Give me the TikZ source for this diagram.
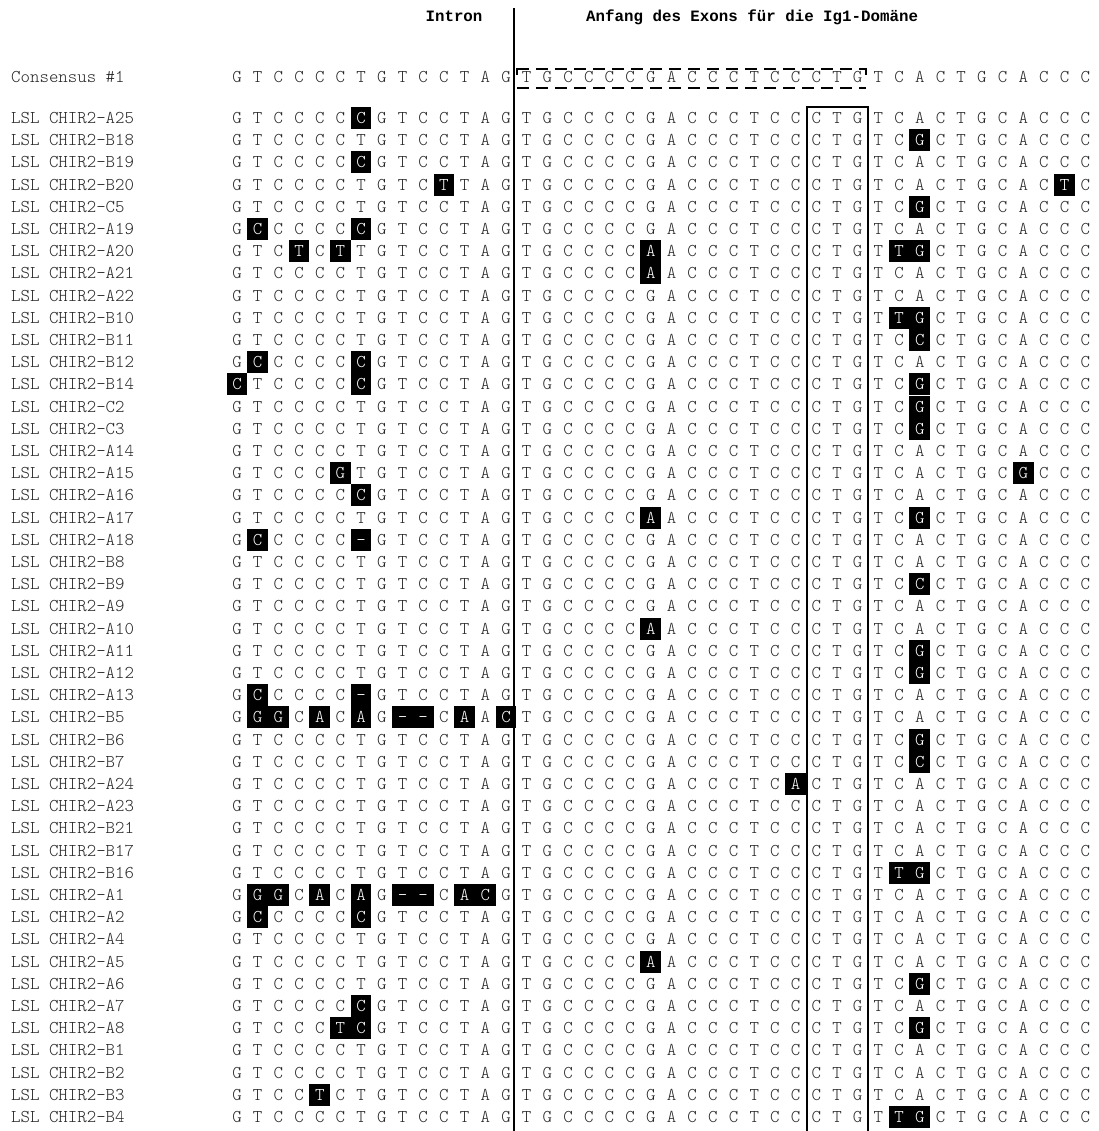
\documentclass[tikz,border=0pt]{standalone}
\usepackage{fontspec}
\newfontfamily\hdrfont{Liberation Mono}
\makeatletter
\newcount\colidx
\newcommand\seqfont{\fontsize{18}{20}\selectfont\ttfamily\fontseries{l}\selectfont}
\def\consstr{GTCCCCTGTCCTAGTGCCCCGACCCTCCCTGTCACTGCACCC}
\def\storecons#1{\global\colidx=0 \@tfor\ch:=#1\do{\expandafter\global\expandafter\let\csname cons@\the\colidx\endcsname\ch \global\advance\colidx by 1 }}
\expandafter\storecons\expandafter{\consstr}
\def\doseqrow#1{\global\colidx=0 \@tfor\ch:=#1\do{%
  \pgfmathsetmacro\xx{237+20.69*\the\colidx}%
  \expandafter\ifx\csname cons@\the\colidx\endcsname\ch
    \node[seq] at (\xx,\rowy+5.5) {\ch};%
  \else
    \fill[black] (\xx-10.35,\rowy-11) rectangle (\xx+10.35,\rowy+11);%
    \node[seq,text=white] at (\xx,\rowy+5.5) {\ch};%
  \fi
  \global\advance\colidx by 1 }}
\newcommand\seqrow[3]{%
  \pgfmathsetmacro\rowy{118+22.2*#1}%
  \node[lab] (L#1) at (11,\rowy+5.5) {LSL CHIR2-#2};%
  \edef\rowstr{#3}%
  \expandafter\doseqrow\expandafter{\rowstr}}
\makeatother
% sequence pieces
\def\Lo{GTCCCCTGTCCTAG}
\def\Lc{GTCCCCCGTCCTAG}
\def\Lt{GTCCCCTGTCTTAG}
\def\Lcc{GCCCCCCGTCCTAG}
\def\Ltt{GTCTCTTGTCCTAG}
\def\Lcz{CTCCCCCGTCCTAG}
\def\Lg{GTCCCGTGTCCTAG}
\def\Lgap{GCCCCC-GTCCTAG}
\def\Lbf{GGGCACAG--CAAC}
\def\Laone{GGGCACAG--CACG}
\def\Ltc{GTCCCTCGTCCTAG}
\def\Ltf{GTCCTCTGTCCTAG}
\def\Mo{TGCCCCGACCCTCCCTG}
\def\Ma{TGCCCCAACCCTCCCTG}
\def\Mz{TGCCCCGACCCTCACTG}
\def\Ro{TCACTGCACCC}
\def\Rg{TCGCTGCACCC}
\def\Rc{TCCCTGCACCC}
\def\Rtg{TTGCTGCACCC}
\def\Rt{TCACTGCACTC}
\def\Rgg{TCACTGCGCCC}
\begin{document}
\begin{tikzpicture}[x=1pt,y=-1pt,
  seq/.style={font=\seqfont, text=black!85, anchor=base, inner sep=0pt},
  lab/.style={font=\seqfont, text=black!85, anchor=base west, inner sep=0pt},
  hdr/.style={font=\fontsize{15.8}{18}\selectfont\hdrfont\bfseries, text=black, inner sep=0pt},
  thickline/.style={line width=2.6pt, black},
  dashline/.style={line width=2.4pt, black, dash pattern=on 12pt off 7pt}]
\useasboundingbox (0,0) rectangle (1098,1131);
\fill[white] (0,0) rectangle (1098,1131);
% headers
\node[hdr, anchor=base] (intron) at (454,22) {Intron};
\node[hdr, anchor=base west] (exon) at (586,22) {Anfang des Exons für die Ig1-Domäne};
% consensus
\node[lab] (cons) at (11,82.5) {Consensus \#1};
\def\rowy{77}
\expandafter\doseqrow\expandafter{\consstr}
% rows
\seqrow{0}{A25}{\Lc\Mo\Ro}
\seqrow{1}{B18}{\Lo\Mo\Rg}
\seqrow{2}{B19}{\Lc\Mo\Ro}
\seqrow{3}{B20}{\Lt\Mo\Rt}
\seqrow{4}{C5}{\Lo\Mo\Rg}
\seqrow{5}{A19}{\Lcc\Mo\Ro}
\seqrow{6}{A20}{\Ltt\Ma\Rtg}
\seqrow{7}{A21}{\Lo\Ma\Ro}
\seqrow{8}{A22}{\Lo\Mo\Ro}
\seqrow{9}{B10}{\Lo\Mo\Rtg}
\seqrow{10}{B11}{\Lo\Mo\Rc}
\seqrow{11}{B12}{\Lcc\Mo\Ro}
\seqrow{12}{B14}{\Lcz\Mo\Rg}
\seqrow{13}{C2}{\Lo\Mo\Rg}
\seqrow{14}{C3}{\Lo\Mo\Rg}
\seqrow{15}{A14}{\Lo\Mo\Ro}
\seqrow{16}{A15}{\Lg\Mo\Rgg}
\seqrow{17}{A16}{\Lc\Mo\Ro}
\seqrow{18}{A17}{\Lo\Ma\Rg}
\seqrow{19}{A18}{\Lgap\Mo\Ro}
\seqrow{20}{B8}{\Lo\Mo\Ro}
\seqrow{21}{B9}{\Lo\Mo\Rc}
\seqrow{22}{A9}{\Lo\Mo\Ro}
\seqrow{23}{A10}{\Lo\Ma\Ro}
\seqrow{24}{A11}{\Lo\Mo\Rg}
\seqrow{25}{A12}{\Lo\Mo\Rg}
\seqrow{26}{A13}{\Lgap\Mo\Ro}
\seqrow{27}{B5}{\Lbf\Mo\Ro}
\seqrow{28}{B6}{\Lo\Mo\Rg}
\seqrow{29}{B7}{\Lo\Mo\Rc}
\seqrow{30}{A24}{\Lo\Mz\Ro}
\seqrow{31}{A23}{\Lo\Mo\Ro}
\seqrow{32}{B21}{\Lo\Mo\Ro}
\seqrow{33}{B17}{\Lo\Mo\Ro}
\seqrow{34}{B16}{\Lo\Mo\Rtg}
\seqrow{35}{A1}{\Laone\Mo\Ro}
\seqrow{36}{A2}{\Lcc\Mo\Ro}
\seqrow{37}{A4}{\Lo\Mo\Ro}
\seqrow{38}{A5}{\Lo\Ma\Ro}
\seqrow{39}{A6}{\Lo\Mo\Rg}
\seqrow{40}{A7}{\Lc\Mo\Ro}
\seqrow{41}{A8}{\Ltc\Mo\Rg}
\seqrow{42}{B1}{\Lo\Mo\Ro}
\seqrow{43}{B2}{\Lo\Mo\Ro}
\seqrow{44}{B3}{\Ltf\Mo\Ro}
\seqrow{45}{B4}{\Lo\Mo\Rtg}
% main separator line
\coordinate (mtop) at (514,8);
\coordinate (mbot) at (514,1131);
\draw[thickline] (mtop) -- (mbot);
% CTG box
\coordinate (b1) at (807,1131);
\coordinate (b2) at (807,107);
\coordinate (b3) at (868,107);
\coordinate (b4) at (868,1131);
\draw[thickline] (b1) -- (b2) -- (b3) -- (b4);
% dashed box around consensus exon part
\coordinate (d1) at (517,69);
\coordinate (d2) at (866,69);
\coordinate (d3) at (517,88);
\coordinate (d4) at (866,88);
\draw[dashline] (d1) -- (d2);
\draw[dashline] (d3) -- (d4);
\draw[line width=2.4pt] (517,68) -- (517,75);
\draw[line width=2.4pt] (866,68) -- (866,75);
\end{tikzpicture}
\end{document}
